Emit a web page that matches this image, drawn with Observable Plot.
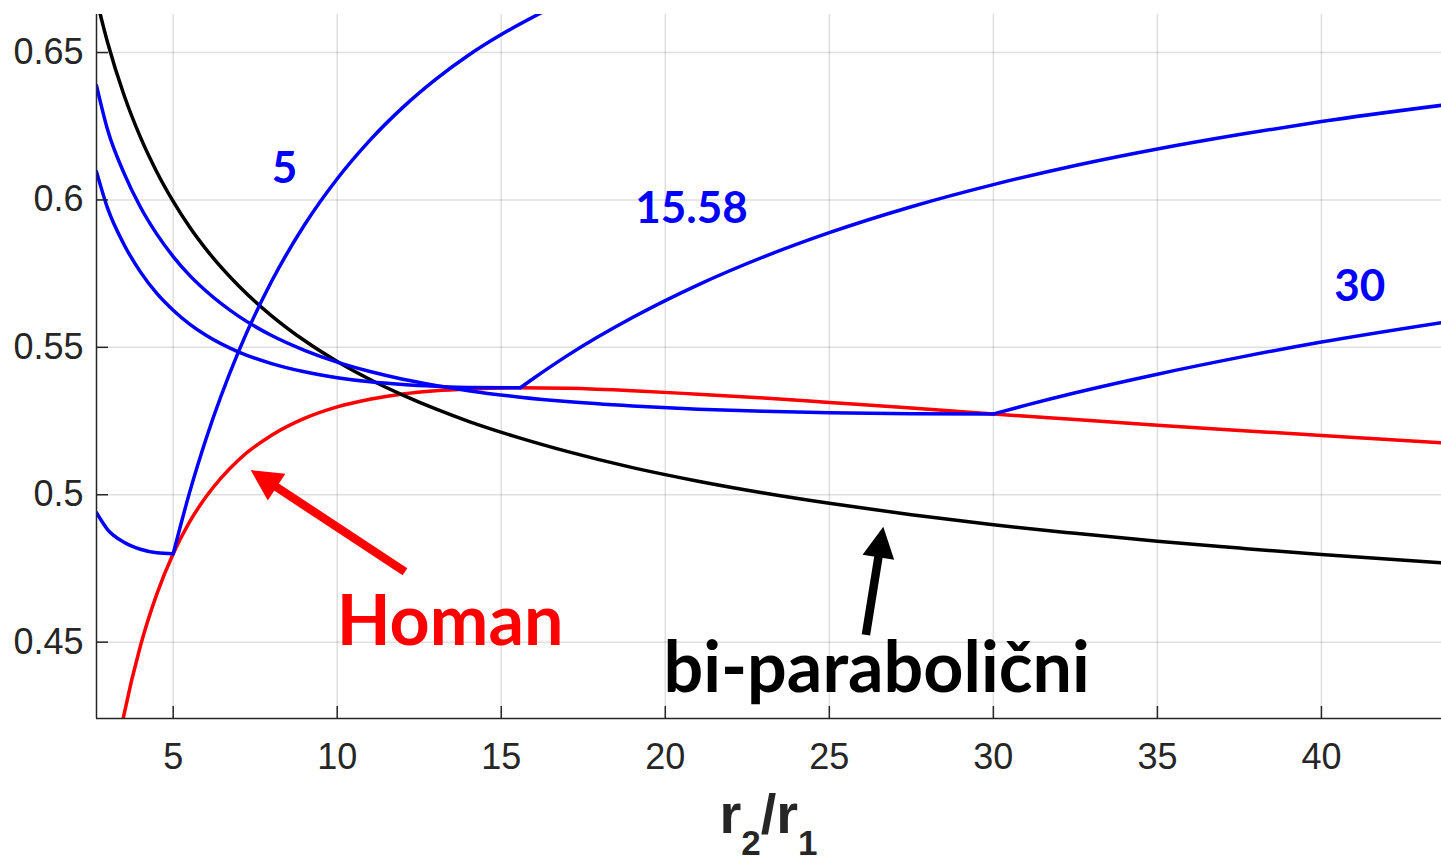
<!DOCTYPE html>
<html><head><meta charset="utf-8">
<script src="https://cdn.jsdelivr.net/npm/d3@7"></script>
<script src="https://cdn.jsdelivr.net/npm/@observablehq/plot@0.6"></script>
<style>html,body{margin:0;padding:0;background:#fff;} svg{display:block}</style>
</head><body><div id="chart"></div>
<script>
// ---- data ----
const xTicks = [5, 10, 15, 20, 25, 30, 35, 40];
const yTicks = [0.45, 0.5, 0.55, 0.6, 0.65];
const xDomain = [2.662, 43.66];
const yDomain = [0.4241, 0.6629];

// Hohmann (red)
const hohmannR  = [3, 3.25, 3.5, 4, 4.5, 5, 5.5, 6, 7, 8, 9, 10, 11, 12, 13, 14, 15.58, 17, 19, 21, 23, 25, 27.5, 30, 32.5, 35, 37.5, 40, 43.66];
const hohmannDv = [0.3938, 0.4109, 0.4254, 0.4487, 0.4663, 0.4800, 0.4908, 0.4993, 0.5119, 0.5202, 0.5259, 0.5298, 0.5324, 0.5342, 0.5353, 0.5359, 0.5363, 0.5361, 0.5353, 0.5341, 0.5328, 0.5313, 0.5294, 0.5274, 0.5255, 0.5236, 0.5218, 0.5201, 0.5176];

// bi-parabolic (black)
const biParR  = [2.662, 3, 3.5, 4, 4.5, 5, 5.5, 6, 7, 8, 9, 10, 11, 12, 13, 14, 15.58, 17, 19, 21, 23, 25, 27.5, 30, 32.5, 35, 37.5, 40, 43.66];
const biParDv = [0.6681, 0.6534, 0.6356, 0.6213, 0.6095, 0.5995, 0.5908, 0.5833, 0.5708, 0.5607, 0.5523, 0.5452, 0.5391, 0.5338, 0.5291, 0.5249, 0.5192, 0.5147, 0.5092, 0.5046, 0.5006, 0.4971, 0.4932, 0.4898, 0.4869, 0.4842, 0.4819, 0.4797, 0.4769];

// bi-elliptic (blue), intermediate radius ratio 5, 15.58, 30
const biEllAlpha = [5, 15.58, 30];
const biEllLabel = ["5", "15.58", "30"];
const be5R   = [2.662, 3, 3.5, 4, 4.5, 5, 5.5, 6, 7, 8, 9, 10, 11, 12, 13, 14, 15, 16.5];
const be5Dv  = [0.4939, 0.4882, 0.4839, 0.4815, 0.4803, 0.4800, 0.5008, 0.5189, 0.5488, 0.5724, 0.5915, 0.6072, 0.6203, 0.6314, 0.6409, 0.6491, 0.6561, 0.6651];
const be15R  = [2.662, 3, 3.5, 4, 4.5, 5, 5.5, 6, 7, 8, 9, 10, 11, 12, 13, 14, 15.58, 16, 17, 19, 21, 23, 25, 27.5, 30, 32.5, 35, 37.5, 40, 43.66];
const be15Dv = [0.6096, 0.5972, 0.5849, 0.5756, 0.5683, 0.5626, 0.5579, 0.5541, 0.5484, 0.5445, 0.5417, 0.5397, 0.5383, 0.5374, 0.5368, 0.5364, 0.5363, 0.5396, 0.5471, 0.5601, 0.5712, 0.5807, 0.5889, 0.5977, 0.6052, 0.6117, 0.6173, 0.6222, 0.6266, 0.6321];
const be30R  = [2.662, 3, 3.5, 4, 4.5, 5, 5.5, 6, 7, 8, 9, 10, 11, 12, 13, 14, 15.58, 17, 19, 21, 23, 25, 27.5, 30, 31, 32.5, 35, 37.5, 40, 43.66];
const be30Dv = [0.6388, 0.6238, 0.6091, 0.5976, 0.5884, 0.5808, 0.5744, 0.5691, 0.5605, 0.5540, 0.5490, 0.5450, 0.5418, 0.5392, 0.5371, 0.5353, 0.5331, 0.5316, 0.5301, 0.5290, 0.5283, 0.5278, 0.5275, 0.5274, 0.5304, 0.5346, 0.5409, 0.5466, 0.5518, 0.5584];

// annotation anchors (data units)
const numberLabels = [
  {text: "5",     x: 8.39,  y: 0.6105},
  {text: "15.58", x: 20.80, y: 0.5971},
  {text: "30",    x: 41.17, y: 0.5704}
];
const nameLabels = [
  {text: "Homan",          x: 13.44, y: 0.4565, color: "#ff0000"},
  {text: "bi-parabolični", x: 26.44, y: 0.4407, color: "#000000"}
];
const arrows = [
  {x1: 12.08, y1: 0.4737, x2: 7.377, y2: 0.5082, color: "#ff0000"},
  {x1: 26.13, y1: 0.4523, x2: 26.66, y2: 0.4890, color: "#000000"}
];

// ---- build rows ----
function rows(name, xs, ys, alpha) {
  const out = [];
  xs.forEach((r, i) => {
    if (alpha == null) out.push({r, dv: ys[i], key: name});
    else {
      if (r <= alpha) out.push({r, dv: ys[i], key: name + "-a"});
      if (r >= alpha) out.push({r, dv: ys[i], key: name + "-b"});
    }
  });
  return out;
}
const redRows = rows("hohmann", hohmannR, hohmannDv);
const blackRows = rows("bipar", biParR, biParDv);
const blueRows = [
  ...rows(biEllLabel[0], be5R, be5Dv, biEllAlpha[0]),
  ...rows(biEllLabel[1], be15R, be15Dv, biEllAlpha[1]),
  ...rows(biEllLabel[2], be30R, be30Dv, biEllAlpha[2])
];

const axisColor = "#262626";
const labelFont = "Lato, 'Open Sans', sans-serif";

function arrowMark(list) {
  return (index, scales) => {
    const g = d3.create("svg:g");
    for (const a of list) {
      const x1 = scales.x(a.x1), y1 = scales.y(a.y1), x2 = scales.x(a.x2), y2 = scales.y(a.y2);
      const L = Math.hypot(x2 - x1, y2 - y1), ux = (x2 - x1) / L, uy = (y2 - y1) / L;
      const hl = 31, hw = 32, sw = 8.5;
      const bx = x2 - ux * hl, by = y2 - uy * hl;
      g.append("line").attr("x1", x1).attr("y1", y1).attr("x2", bx + ux * 2).attr("y2", by + uy * 2)
        .attr("stroke", a.color).attr("stroke-width", sw);
      g.append("path")
        .attr("d", `M${x2},${y2}L${bx - uy * hw / 2},${by + ux * hw / 2}L${bx + uy * hw / 2},${by - ux * hw / 2}Z`)
        .attr("fill", a.color);
    }
    return g.node();
  };
}

function xLabelMark() {
  return (index, scales, values, dims) => {
    const cx = dims.marginLeft + (dims.width - dims.marginLeft - dims.marginRight) / 2;
    const t = d3.create("svg:text")
      .attr("x", cx).attr("y", 833)
      .attr("text-anchor", "middle")
      .attr("font-family", "'Liberation Sans', Arial, Helvetica, sans-serif")
      .attr("font-weight", "bold").attr("font-size", 56).attr("fill", axisColor);
    t.append("tspan").text("r");
    t.append("tspan").attr("font-size", 35).attr("dy", 22).text("2");
    t.append("tspan").attr("dy", -22).text("/r");
    t.append("tspan").attr("font-size", 35).attr("dy", 22).text("1");
    return t.node();
  };
}

const chart = Plot.plot({
  width: 1441, height: 864,
  marginLeft: 96, marginRight: 0, marginTop: 14, marginBottom: 146,
  style: {background: "#fff", color: axisColor, fontFamily: "'Liberation Sans', Arial, Helvetica, sans-serif", overflow: "visible"},
  x: {domain: xDomain},
  y: {domain: yDomain},
  marks: [
    Plot.gridX(xTicks, {stroke: axisColor, strokeOpacity: 0.15, strokeWidth: 1.5}),
    Plot.gridY(yTicks, {stroke: axisColor, strokeOpacity: 0.15, strokeWidth: 1.5}),
    Plot.line(redRows, {x: "r", y: "dv", z: "key", stroke: "#ff0000", strokeWidth: 3.5, curve: "monotone-x", clip: true}),
    Plot.line(blackRows, {x: "r", y: "dv", z: "key", stroke: "#000000", strokeWidth: 3.5, curve: "monotone-x", clip: true}),
    Plot.line(blueRows, {x: "r", y: "dv", z: "key", stroke: "#0000ff", strokeWidth: 3.5, curve: "monotone-x", clip: true}),
    Plot.ruleX([xDomain[0]], {stroke: axisColor, strokeWidth: 1.5}),
    Plot.ruleY([yDomain[0]], {stroke: axisColor, strokeWidth: 1.5}),
    Plot.axisX(xTicks, {tickSize: -12, tickPadding: 37, fontSize: 36, label: null, strokeWidth: 1.5, tickFormat: d => String(d)}),
    Plot.axisY(yTicks, {tickSize: -12, tickPadding: 25, fontSize: 36, label: null, strokeWidth: 1.5, tickFormat: d => String(d)}),
    Plot.text(numberLabels, {x: "x", y: "y", text: "text", fill: "#0000ff", fontSize: 44, fontWeight: "bold", fontFamily: labelFont}),
    Plot.text(nameLabels, {x: "x", y: "y", text: "text", fill: "color", fontSize: 70, fontWeight: "bold", fontFamily: labelFont, style: "letter-spacing:0.6px"}),
    arrowMark(arrows),
    xLabelMark()
  ]
});
// slight letter spacing for the large labels, to match the reference's widths
d3.select(chart).selectAll("text").filter(function() { return +this.getAttribute("font-size") === 70 || this.closest("[font-size='70']"); });
document.getElementById("chart").appendChild(chart);
</script>
</body></html>
